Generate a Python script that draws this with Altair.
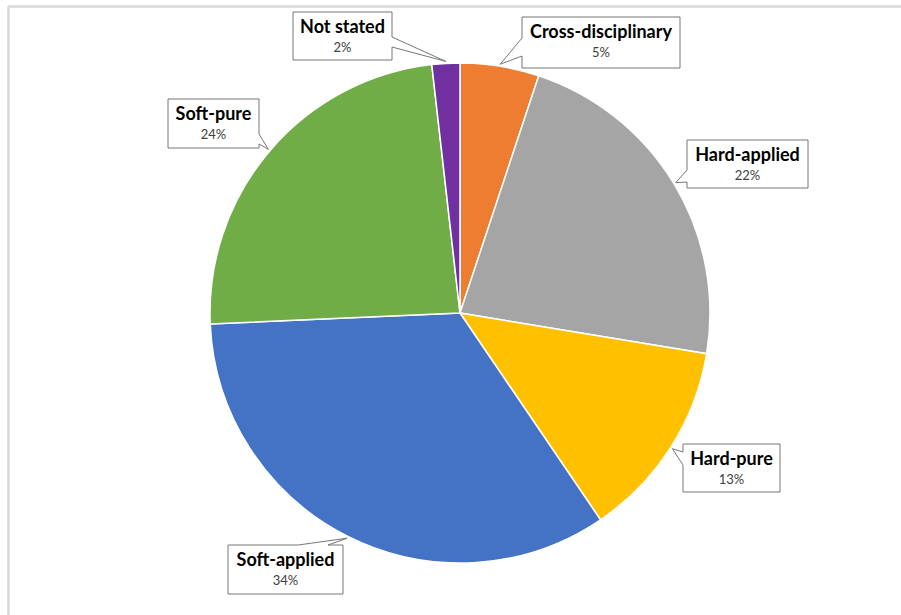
import math
import altair as alt
import pandas as pd

# ---- data ----
categories = ["Cross-disciplinary", "Hard-applied", "Hard-pure", "Soft-applied", "Soft-pure", "Not stated"]
values = [5.1, 22.5, 12.9, 33.8, 23.9, 1.8]
pct_labels = ["5%", "22%", "13%", "34%", "24%", "2%"]
colors = ["#ED7D31", "#A5A5A5", "#FFC000", "#4472C4", "#70AD47", "#7030A0"]

# ---- layout (pixels) ----
W, H = 901, 615
CX, CY, R = 460, 313, 250
# callout boxes: x0, y0, x1, y1, side of tail, tail base start, tail base end
boxes = {
    "Cross-disciplinary": (522, 17, 680, 68, "left", 38, 56),
    "Hard-applied": (687, 140, 808, 188, "left", 170, 182),
    "Hard-pure": (683, 444, 780, 492, "left", 452, 465),
    "Soft-applied": (228, 545, 343, 594, "top", 298, 328),
    "Soft-pure": (168, 99, 259, 148, "right", 134, 144),
    "Not stated": (293, 12, 392, 60, "right", 37, 47),
}

pie_df = pd.DataFrame({"cat": categories, "value": values, "idx": list(range(len(values)))})

total = sum(values)
poly_rows, text_rows = [], []
cum = 0
for cat, v, lab in zip(categories, values, pct_labels):
    mid = (cum + v / 2) / total * 2 * math.pi
    cum += v
    tx = CX + (R + 2) * math.sin(mid)
    ty = CY - (R + 2) * math.cos(mid)
    x0, y0, x1, y1, side, b1, b2 = boxes[cat]
    if side == "left":
        pts = [(x0, y0), (x1, y0), (x1, y1), (x0, y1), (x0, b2), (tx, ty), (x0, b1)]
    elif side == "right":
        pts = [(x0, y0), (x1, y0), (x1, b1), (tx, ty), (x1, b2), (x1, y1), (x0, y1)]
    else:  # top
        pts = [(x0, y0), (b1, y0), (tx, ty), (b2, y0), (x1, y0), (x1, y1), (x0, y1)]
    for i, (px, py) in enumerate(pts):
        poly_rows.append({"cat": cat, "i": i, "px": px, "py": py})
    text_rows.append({"cat": cat, "pct": lab, "tx": (x0 + x1) / 2, "ny": y0 + 16, "py": y0 + 36})

poly_df = pd.DataFrame(poly_rows)
text_df = pd.DataFrame(text_rows)

frame = alt.Chart(pie_df).mark_rule(color="#D9D9D9", strokeWidth=1.5)
frame_left = frame.encode(x=alt.value(8.5), y=alt.value(6.5), y2=alt.value(H))
frame_top = frame.encode(x=alt.value(8.5), x2=alt.value(W), y=alt.value(6.5))

pie = alt.Chart(pie_df).mark_arc(outerRadius=R, stroke="white", strokeWidth=1.5).encode(
    theta=alt.Theta("value:Q", stack=True),
    color=alt.Color("cat:N", scale=alt.Scale(domain=categories, range=colors), legend=None),
    order=alt.Order("idx:Q"),
    x=alt.value(CX),
    y=alt.value(CY),
)

callouts = alt.Chart(poly_df).mark_line(
    fill="white", stroke="#767676", strokeWidth=1, interpolate="linear-closed"
).encode(
    x=alt.X("px:Q", scale=None, axis=None),
    y=alt.Y("py:Q", scale=None, axis=None),
    detail="cat:N",
    order="i:Q",
)

names = alt.Chart(text_df).mark_text(
    font="Lato", fontSize=18, fontWeight="bold", color="#000000", baseline="middle", align="center"
).encode(
    x=alt.X("tx:Q", scale=None, axis=None),
    y=alt.Y("ny:Q", scale=None, axis=None),
    text="cat:N",
)

pcts = alt.Chart(text_df).mark_text(
    font="Lato", fontSize=13, color="#404040", baseline="middle", align="center"
).encode(
    x=alt.X("tx:Q", scale=None, axis=None),
    y=alt.Y("py:Q", scale=None, axis=None),
    text="pct:N",
)

chart = alt.layer(frame_left, frame_top, pie, callouts, names, pcts).properties(
    width=W, height=H, autosize=alt.AutoSizeParams(type="none"), padding=0, background="white"
).configure_view(stroke=None)

chart.save("out.html", embed_options={"renderer": "svg", "actions": False})
